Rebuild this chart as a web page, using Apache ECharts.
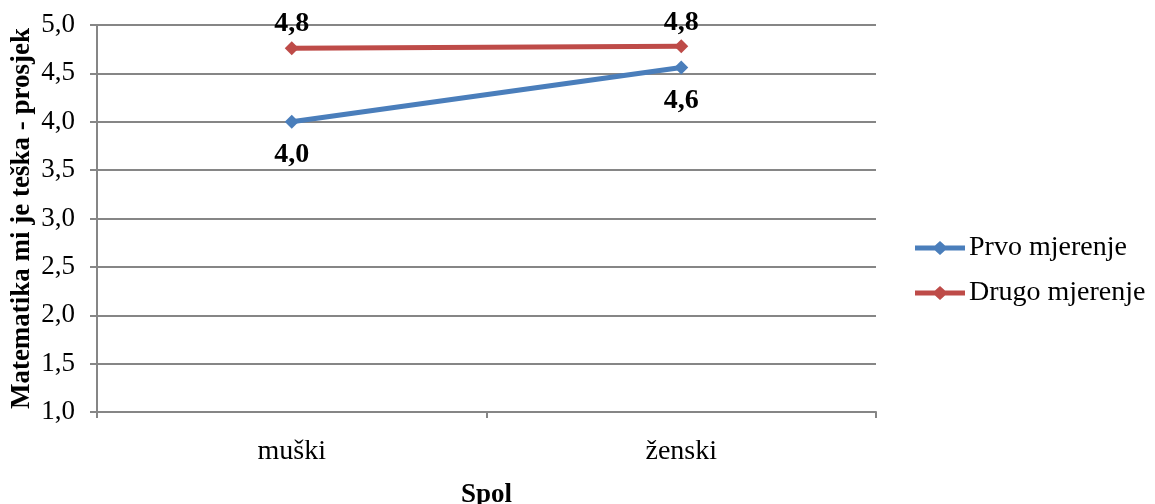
<!DOCTYPE html>
<html><head><meta charset="utf-8">
<script src="https://cdn.jsdelivr.net/npm/echarts@6/dist/echarts.min.js"></script>
<style>html,body{margin:0;padding:0;background:#fff}#c{width:1155px;height:504px}</style>
</head><body><div id="c"></div>
<script>
const categories = ['muški', 'ženski'];
const prvo = [4.0, 4.56];
const drugo = [4.76, 4.78];
const seriesNames = ['Prvo mjerenje', 'Drugo mjerenje'];
const yTicks = [1.0, 1.5, 2.0, 2.5, 3.0, 3.5, 4.0, 4.5, 5.0];

const font = 'Liberation Serif, Times New Roman, serif';
const fmt = v => (Math.round(v * 10 + 1e-9) / 10).toFixed(1).replace('.', ',');
const legendIcon = 'path://M0,4.5 L20,4.5 L25,0 L30,4.5 L50,4.5 L50,9.5 L30,9.5 L25,14 L20,9.5 L0,9.5 Z';
const chart = echarts.init(document.getElementById('c'));
chart.setOption({
  animation: false,
  grid: { left: 97, right: 279, top: 25, bottom: 92, outerBoundsMode: 'none', containLabel: false },
  legend: {
    orient: 'vertical', left: 910, top: 229, itemGap: 17,
    itemWidth: 52, itemHeight: 14,
    textStyle: { fontFamily: font, fontSize: 28, color: '#000', padding: [0, 0, 0, -2] },
    data: seriesNames.map(n => ({ name: n, icon: legendIcon }))
  },
  xAxis: {
    type: 'category', data: categories, boundaryGap: true,
    name: 'Spol', nameLocation: 'middle', nameGap: 70,
    nameTextStyle: { fontFamily: font, fontSize: 27, fontWeight: 'bold', color: '#000' },
    axisLine: { lineStyle: { color: '#868686', width: 2 } },
    axisTick: { show: true, length: 6, lineStyle: { color: '#868686', width: 2 } },
    axisLabel: { fontFamily: font, fontSize: 28, color: '#000', margin: 26 }
  },
  yAxis: {
    type: 'value', min: 1, max: 5, interval: 0.5,
    name: 'Matematika mi je teška - prosjek', nameLocation: 'middle', nameGap: 75,
    nameMoveOverlap: false,
    nameTextStyle: { fontFamily: font, fontSize: 27, fontWeight: 'bold', color: '#000', verticalAlign: 'middle' },
    axisLine: { show: true, lineStyle: { color: '#868686', width: 2 } },
    axisTick: { show: true, length: 7, lineStyle: { color: '#868686', width: 2 } },
    axisLabel: { fontFamily: font, fontSize: 27, color: '#000', margin: 22,
      formatter: v => yTicks.includes(v) ? v.toFixed(1).replace('.', ',') : '' },
    splitLine: { lineStyle: { color: '#868686', width: 2 } }
  },
  series: [
    {
      name: seriesNames[0], type: 'line', data: prvo,
      symbol: 'diamond', symbolSize: 14,
      itemStyle: { color: '#4A7EBB' }, lineStyle: { color: '#4A7EBB', width: 5 },
      label: { show: true, position: 'bottom', distance: 12, formatter: p => fmt(p.value),
        fontFamily: font, fontSize: 28, fontWeight: 'bold', color: '#000' }
    },
    {
      name: seriesNames[1], type: 'line', data: drugo,
      symbol: 'diamond', symbolSize: 14,
      itemStyle: { color: '#BE4B48' }, lineStyle: { color: '#BE4B48', width: 5 },
      label: { show: true, position: 'top', distance: 3, formatter: p => fmt(p.value),
        fontFamily: font, fontSize: 28, fontWeight: 'bold', color: '#000' }
    }
  ]
});
</script></body></html>
